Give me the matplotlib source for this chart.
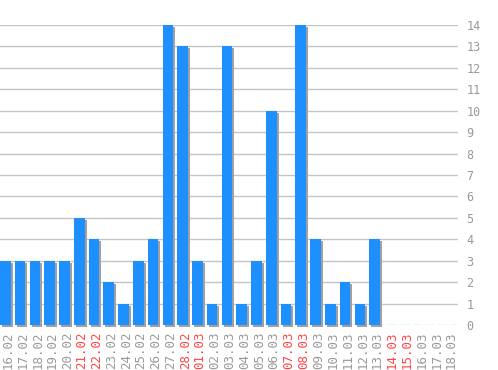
import matplotlib
matplotlib.use("Agg")
import matplotlib.pyplot as plt

dates = ["16.02", "17.02", "18.02", "19.02", "20.02", "21.02", "22.02", "23.02",
         "24.02", "25.02", "26.02", "27.02", "28.02", "01.03", "02.03", "03.03",
         "04.03", "05.03", "06.03", "07.03", "08.03", "09.03", "10.03", "11.03",
         "12.03", "13.03", "14.03", "15.03", "16.03", "17.03", "18.03"]
values = [3, 3, 3, 3, 3, 5, 4, 2, 1, 3, 4, 14, 13, 3, 1, 13,
          1, 3, 10, 1, 14, 4, 1, 2, 1, 4, 0, 0, 0, 0, 0]
weekends = ["21.02", "22.02", "28.02", "01.03", "07.03", "08.03", "14.03", "15.03"]

fig = plt.figure(figsize=(4.98, 3.70), dpi=100)
ax = fig.add_axes([0, 45 / 370, 458 / 498, 300 / 370])
ax.set_xlim(0, len(dates))
ax.set_ylim(0, 14)

xs = list(range(len(dates)))
bw = 0.72
dx = 2 / 14.77
dy = 2 / 21.43

# grid
for y in range(1, 15):
    ax.axhline(y, color="#c4c4c4", lw=1, zorder=0)
ax.axhline(0, color="#c8c8c8", lw=1, ls=(0, (6, 3)), zorder=0)

# shadow + bars
ax.bar([x + dx for x in xs], values, width=bw, bottom=-dy,
       align="edge", color="#a0a0a0", zorder=1, clip_on=False,
       edgecolor="none")
ax.bar(xs, values, width=bw, align="edge", color="#1e8fff", zorder=2,
       edgecolor="none")

for s in ax.spines.values():
    s.set_visible(False)

ax.yaxis.tick_right()
ax.set_yticks(range(0, 15))
ax.tick_params(axis="y", length=0, pad=6, labelsize=8.5, labelcolor="#999999")
ax.set_xticks([x + 0.55 for x in xs])
ax.set_xticklabels(dates, rotation=90)
ax.tick_params(axis="x", length=0, pad=5, labelsize=9, labelcolor="#999999")
for lab in ax.get_xticklabels() + ax.get_yticklabels():
    lab.set_fontfamily("DejaVu Sans Mono")
for lab, d in zip(ax.get_xticklabels(), dates):
    if d in weekends:
        lab.set_color("#ff4444")

fig.savefig("out.png", dpi=100)
